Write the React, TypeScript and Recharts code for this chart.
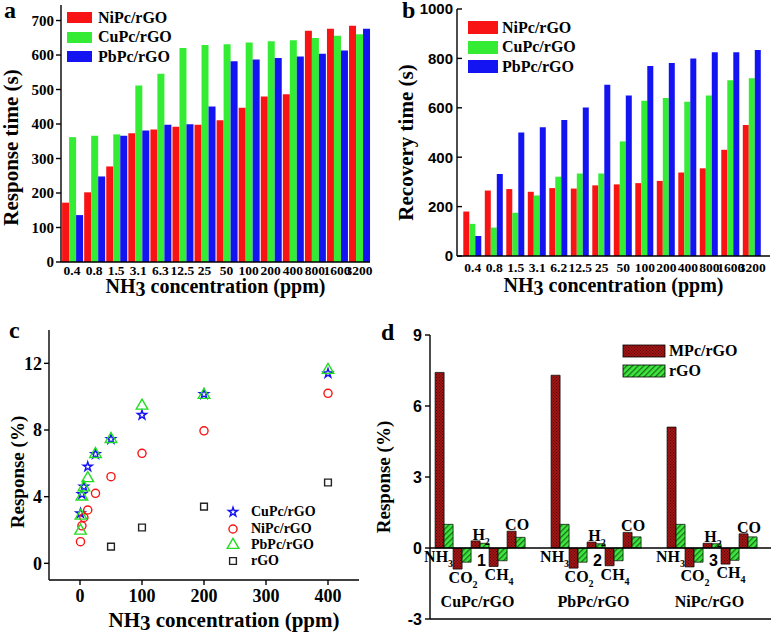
import React from "react";
import {
  BarChart,
  Bar,
  XAxis,
  YAxis,
  ScatterChart,
  Scatter,
  Legend,
  Label,
  LabelList,
  ReferenceLine,
  Symbols,
} from "recharts";

// panel a: response time (s)
const concA = ["0.4", "0.8", "1.5", "3.1", "6.3", "12.5", "25", "50", "100", "200", "400", "800", "1600", "3200"];
const niResponse = [172, 202, 277, 373, 384, 392, 398, 411, 447, 480, 486, 670, 676, 685];
const cuResponse = [362, 366, 370, 512, 546, 620, 629, 631, 636, 640, 643, 649, 656, 660];
const pbResponse = [136, 248, 366, 381, 398, 399, 451, 582, 587, 591, 596, 604, 613, 676];

// panel b: recovery time (s)
const concB = ["0.4", "0.8", "1.5", "3.1", "6.2", "12.5", "25", "50", "100", "200", "400", "800", "1600", "3200"];
const niRecovery = [180, 265, 271, 260, 275, 273, 286, 290, 295, 304, 338, 355, 430, 530];
const cuRecovery = [130, 115, 175, 245, 321, 334, 334, 464, 629, 640, 625, 650, 712, 720];
const pbRecovery = [81, 332, 500, 521, 551, 601, 693, 650, 769, 781, 800, 825, 825, 834];

// panel c: response (%) vs concentration
const cuConc = [0.8, 3.1, 6.3, 12.5, 25, 50, 100, 200, 400];
const cuResp = [3.0, 4.15, 4.6, 5.8, 6.55, 7.45, 8.9, 10.15, 11.4];
const niConc = [0.8, 3.1, 6.3, 12.5, 25, 50, 100, 200, 400];
const niResp = [1.3, 2.25, 2.75, 3.2, 4.2, 5.2, 6.6, 7.95, 10.2];
const pbConc = [0.8, 1.5, 3.1, 6.3, 12.5, 25, 50, 100, 200, 400];
const pbResp = [1.95, 2.85, 4.0, 4.55, 5.1, 6.55, 7.45, 9.45, 10.1, 11.6];
const rgoConc = [50, 100, 200, 400];
const rgoResp = [1.0, 2.15, 3.4, 4.85];

// panel d: selectivity
const groups = ["CuPc/rGO", "PbPc/rGO", "NiPc/rGO"];
const groupNo = ["1", "2", "3"];
const nh3Mpc = [7.42, 7.3, 5.11];
const nh3Rgo = [1.0, 1.0, 1.0];
const co2Mpc = [-0.89, -0.85, -0.8];
const co2Rgo = [-0.6, -0.6, -0.6];
const h2Mpc = [0.3, 0.25, 0.2];
const h2Rgo = [0.2, 0.18, 0.18];
const ch4Mpc = [-0.78, -0.75, -0.68];
const ch4Rgo = [-0.54, -0.54, -0.52];
const coMpc = [0.71, 0.66, 0.6];
const coRgo = [0.45, 0.47, 0.47];

const barOrder = ["NiPc/rGO", "CuPc/rGO", "PbPc/rGO", "MPc/rGO", "rGO"];
const scatterOrder = ["CuPc/rGO", "NiPc/rGO", "PbPc/rGO", "rGO"];

const rowsA = concA.map((c, i) => ({ conc: c, ni: niResponse[i], cu: cuResponse[i], pb: pbResponse[i] }));
const rowsB = concB.map((c, i) => ({ conc: c, ni: niRecovery[i], cu: cuRecovery[i], pb: pbRecovery[i] }));
const pts = (xs: number[], ys: number[]) => xs.map((x, i) => ({ x, y: ys[i] }));
const rowsD = groups.map((g, i) => ({
  pos: i + 1,
  nh3m: nh3Mpc[i], nh3r: nh3Rgo[i],
  co2m: co2Mpc[i], co2r: co2Rgo[i],
  h2m: h2Mpc[i], h2r: h2Rgo[i],
  ch4m: ch4Mpc[i], ch4r: ch4Rgo[i],
  com: coMpc[i], cor: coRgo[i],
}));

const SERIF = "'Liberation Serif', 'Times New Roman', serif";
const SANS = "'Liberation Sans', Arial, sans-serif";
const RED = "#f81414";
const GREEN = "#34ec34";
const BLUE = "#1414f2";
const line = { stroke: "#000", strokeWidth: 1.4 };
const tickFont = (family: string, size: number) => ({ fontFamily: family, fontWeight: 700, fontSize: size, fill: "#000" });
const txt = (family: string, size: number): React.CSSProperties => ({ fontFamily: family, fontWeight: 700, fontSize: size, fill: "#000" });

const sortBy = (payload: any[], order: string[]) =>
  (payload || []).filter((e: any) => e.type !== "none").slice().sort((a: any, b: any) => order.indexOf(a.value) - order.indexOf(b.value));

function YTitle({ viewBox, text, dx, dy, size }: any) {
  if (!viewBox) return null;
  const cx = viewBox.x + dx;
  const cy = viewBox.y + viewBox.height / 2 + dy;
  return (
    <text x={cx} y={cy} transform={`rotate(-90 ${cx} ${cy})`} textAnchor="middle" dominantBaseline="central" style={txt(SERIF, size)}>
      {text}
    </text>
  );
}

function NH3Title({ viewBox, dx, dy, size }: any) {
  if (!viewBox) return null;
  return (
    <text x={viewBox.x + viewBox.width / 2 + dx} y={viewBox.y + dy} textAnchor="middle" style={txt(SERIF, size)}>
      NH<tspan dy={3}>3</tspan>
      <tspan dy={-3}> concentration (ppm)</tspan>
    </text>
  );
}

function RectLegend({ payload, w, h, row, size, gap, border }: any) {
  return (
    <div style={{ textAlign: "left" }}>
      {sortBy(payload, barOrder).map((e: any) => (
        <div key={e.value} style={{ display: "flex", alignItems: "center", height: row }}>
          <svg width={w + 2} height={h + 2} style={{ display: "block" }}>
            <rect x={1} y={1} width={w} height={h} fill={e.color} stroke={border || "none"} strokeWidth={0.8} />
          </svg>
          <span style={{ marginLeft: gap, fontFamily: SERIF, fontWeight: 700, fontSize: size, color: "#000", lineHeight: 1 }}>{e.value}</span>
        </div>
      ))}
    </div>
  );
}

const symbolSize: Record<string, number> = { star: 26, circle: 52, triangle: 58, square: 46 };

function SymbolLegend({ payload }: any) {
  return (
    <div style={{ textAlign: "left" }}>
      {sortBy(payload, scatterOrder).map((e: any) => (
        <div key={e.value} style={{ display: "flex", alignItems: "center", height: 16.4 }}>
          <svg width={16} height={16} style={{ display: "block" }}>
            <Symbols cx={8} cy={8} type={e.type} size={symbolSize[e.type]} fill="none" stroke={e.color} strokeWidth={1.4} />
          </svg>
          <span style={{ marginLeft: 10, fontFamily: SERIF, fontWeight: 700, fontSize: 14, color: "#000", lineHeight: 1 }}>{e.value}</span>
        </div>
      ))}
    </div>
  );
}

const marker = (type: any, color: string) => (p: any) =>
  <Symbols cx={p.cx} cy={p.cy} type={type} size={symbolSize[type]} fill="none" stroke={color} strokeWidth={1.4} />;

// gas name labels of panel d, placed from the bar geometry
const gasLabel = (main: string, sub: string, place: "nh3" | "below" | "above") => (p: any) => {
  const x = Number(p.x), y = Number(p.y), w = Number(p.width), h = Number(p.height);
  if (!isFinite(x) || !isFinite(y)) return null;
  const top = Math.min(y, y + h);
  const bottom = Math.max(y, y + h);
  let cx = x + w + 1;
  let by = place === "below" ? bottom + 14 : top - 1;
  if (place === "nh3") {
    cx = x + w / 2 - 1;
    by = bottom + 14;
  }
  return (
    <text x={cx} y={by} textAnchor="middle" style={txt(SERIF, 16)}>
      {main}
      {sub ? <tspan dy={5} fontSize={10}>{sub}</tspan> : null}
    </text>
  );
};

function GroupTick({ x, y, payload }: any) {
  const i = Number(payload.value) - 1;
  if (i < 0 || i > 2) return null;
  return (
    <g>
      <text x={x} y={y - 53} textAnchor="middle" style={txt(SANS, 16)}>{groupNo[i]}</text>
      <text x={x - 4} y={y - 12} textAnchor="middle" style={txt(SERIF, 16)}>{groups[i]}</text>
    </g>
  );
}

const letter = (left: number, top: number): React.CSSProperties => ({
  position: "absolute", left, top, fontFamily: SERIF, fontWeight: 700, fontSize: 24, lineHeight: 1, color: "#000",
});

export default function App() {
  return (
    <div style={{ position: "absolute", left: 0, top: 0, width: 778, height: 633, background: "#fff", overflow: "hidden" }}>
      {/* a */}
      <div style={{ position: "absolute", left: 0, top: 0 }}>
        <BarChart width={390} height={320} data={rowsA} margin={{ top: 5, right: 20, bottom: 0, left: 0 }} barCategoryGap="5%" barGap={0}>
          <XAxis dataKey="conc" interval={0} height={58} tickLine={false} tickSize={0} tickMargin={3} axisLine={line} tick={tickFont(SERIF, 13.5)}>
            <Label content={(p: any) => <NH3Title {...p} dx={0} dy={31} size={20} />} />
          </XAxis>
          <YAxis domain={[0, 745]} ticks={[0, 100, 200, 300, 400, 500, 600, 700]} width={61} tickSize={5} tickMargin={2} axisLine={line} tickLine={line} tick={tickFont(SERIF, 15)}>
            <Label content={(p: any) => <YTitle {...p} text="Response time (s)" dx={11} dy={14} size={21} />} />
          </YAxis>
          <XAxis xAxisId="top" orientation="top" height={0} tick={false} tickLine={false} axisLine={line} />
          <YAxis yAxisId="right" orientation="right" width={0} tick={false} tickLine={false} axisLine={line} />
          <Legend layout="horizontal" verticalAlign="middle" align="center" width={130} wrapperStyle={{ left: 66, top: 8 }}
            content={(p: any) => <RectLegend payload={p.payload} w={25} h={11} row={19.5} size={16} gap={5} />} />
          <Bar dataKey="ni" name="NiPc/rGO" fill={RED} isAnimationActive={false} />
          <Bar dataKey="cu" name="CuPc/rGO" fill={GREEN} isAnimationActive={false} />
          <Bar dataKey="pb" name="PbPc/rGO" fill={BLUE} isAnimationActive={false} />
        </BarChart>
      </div>

      {/* b */}
      <div style={{ position: "absolute", left: 390, top: 0 }}>
        <BarChart width={388} height={320} data={rowsB} margin={{ top: 9, right: 8, bottom: 0, left: 0 }} barCategoryGap="6%" barGap={0}>
          <XAxis dataKey="conc" interval={0} height={64} padding={{ left: 5, right: 7 }} tickLine={false} tickSize={0} tickMargin={6} axisLine={line} tick={tickFont(SERIF, 13.5)}>
            <Label content={(p: any) => <NH3Title {...p} dx={0} dy={36} size={20} />} />
          </XAxis>
          <YAxis domain={[0, 1000]} ticks={[0, 200, 400, 600, 800, 1000]} width={67} tickSize={-5} tickMargin={9} axisLine={line} tickLine={line} tick={tickFont(SANS, 15)}>
            <Label content={(p: any) => <YTitle {...p} text="Recovery time (s)" dx={15.5} dy={10} size={21} />} />
          </YAxis>
          <XAxis xAxisId="top" orientation="top" height={0} tick={false} tickLine={false} axisLine={line} />
          <YAxis yAxisId="right" orientation="right" width={0} tick={false} tickLine={false} axisLine={line} />
          <Legend layout="horizontal" verticalAlign="middle" align="center" width={130} wrapperStyle={{ left: 77, top: 18 }}
            content={(p: any) => <RectLegend payload={p.payload} w={30} h={13} row={19.5} size={16} gap={3} />} />
          <Bar dataKey="ni" name="NiPc/rGO" fill={RED} isAnimationActive={false} />
          <Bar dataKey="cu" name="CuPc/rGO" fill={GREEN} isAnimationActive={false} />
          <Bar dataKey="pb" name="PbPc/rGO" fill={BLUE} isAnimationActive={false} />
        </BarChart>
      </div>

      {/* c */}
      <div style={{ position: "absolute", left: 0, top: 320 }}>
        <ScatterChart width={390} height={313} margin={{ top: 10, right: 31, bottom: 0, left: 0 }}>
          <XAxis dataKey="x" type="number" domain={[-50, 450]} ticks={[0, 100, 200, 300, 400]} height={53} tickSize={5} tickMargin={4} axisLine={line} tickLine={line} tick={tickFont(SERIF, 18)}>
            <Label content={(p: any) => <NH3Title {...p} dx={20} dy={47} size={21} />} />
          </XAxis>
          <YAxis dataKey="y" type="number" domain={[-1, 14]} ticks={[0, 4, 8, 12]} width={49} tickSize={5} tickMargin={2} axisLine={line} tickLine={line} tick={tickFont(SERIF, 18)}>
            <Label content={(p: any) => <YTitle {...p} text="Response (%)" dx={17} dy={17} size={19} />} />
          </YAxis>
          <XAxis xAxisId="top" orientation="top" type="number" domain={[-50, 450]} height={0} tick={false} tickLine={false} axisLine={line} />
          <YAxis yAxisId="right" orientation="right" type="number" domain={[-1, 14]} width={0} tick={false} tickLine={false} axisLine={line} />
          <Legend layout="horizontal" verticalAlign="middle" align="center" width={120} wrapperStyle={{ left: 225, top: 184 }}
            content={(p: any) => <SymbolLegend payload={p.payload} />} />
          <Scatter name="CuPc/rGO" data={pts(cuConc, cuResp)} fill={BLUE} legendType="star" shape={marker("star", BLUE)} isAnimationActive={false} />
          <Scatter name="NiPc/rGO" data={pts(niConc, niResp)} fill={RED} legendType="circle" shape={marker("circle", RED)} isAnimationActive={false} />
          <Scatter name="PbPc/rGO" data={pts(pbConc, pbResp)} fill="#22dd22" legendType="triangle" shape={marker("triangle", "#22dd22")} isAnimationActive={false} />
          <Scatter name="rGO" data={pts(rgoConc, rgoResp)} fill="#222" legendType="square" shape={marker("square", "#222")} isAnimationActive={false} />
        </ScatterChart>
      </div>

      {/* d */}
      <div style={{ position: "absolute", left: 370, top: 320 }}>
        <BarChart width={408} height={313} data={rowsD} margin={{ top: 15, right: 7, bottom: 0, left: 0 }} barCategoryGap="10%" barGap={0}>
          <defs>
            <pattern id="mpcFill" width="3" height="3" patternUnits="userSpaceOnUse">
              <rect width="3" height="3" fill="#a11616" />
              <rect width="1" height="1" fill="#560000" />
              <rect x="1.5" y="1.5" width="1" height="1" fill="#560000" />
            </pattern>
            <pattern id="rgoFill" width="4" height="4" patternUnits="userSpaceOnUse" patternTransform="rotate(45)">
              <rect width="4" height="4" fill="#3ee83e" />
              <rect width="1.3" height="4" fill="#1b6e1b" />
            </pattern>
          </defs>
          <XAxis dataKey="pos" type="number" domain={[0.556, 3.496]} ticks={[1, 2, 3]} allowDataOverflow height={14} tickLine={false} tickSize={0} tickMargin={0} axisLine={line} tick={<GroupTick />} />
          <YAxis domain={[-3, 9]} ticks={[-3, 0, 3, 6, 9]} width={60} tickSize={5} tickMargin={3} axisLine={line} tickLine={line} tick={tickFont(SANS, 16)}>
            <Label content={(p: any) => <YTitle {...p} text="Response (%)" dx={13} dy={0} size={19} />} />
          </YAxis>
          <XAxis xAxisId="top" orientation="top" type="number" domain={[0.556, 3.496]} height={0} tick={false} tickLine={false} axisLine={line} />
          <YAxis yAxisId="right" orientation="right" domain={[-3, 9]} width={0} tick={false} tickLine={false} axisLine={line} />
          <ReferenceLine y={0} stroke="#000" strokeWidth={1.4} />
          <Legend layout="horizontal" verticalAlign="middle" align="center" width={140} wrapperStyle={{ left: 252, top: 21 }}
            content={(p: any) => <RectLegend payload={p.payload} w={42} h={12} row={20} size={16} gap={3} border="#000" />} />
          <Bar dataKey="nh3m" name="MPc/rGO" fill="url(#mpcFill)" stroke="#000" strokeWidth={0.7} isAnimationActive={false}>
            <LabelList dataKey="nh3m" content={gasLabel("NH", "3", "nh3")} />
          </Bar>
          <Bar dataKey="nh3r" name="rGO" fill="url(#rgoFill)" stroke="#000" strokeWidth={0.7} isAnimationActive={false} />
          <Bar dataKey="co2m" legendType="none" fill="url(#mpcFill)" stroke="#000" strokeWidth={0.7} isAnimationActive={false}>
            <LabelList dataKey="co2m" content={gasLabel("CO", "2", "below")} />
          </Bar>
          <Bar dataKey="co2r" legendType="none" fill="url(#rgoFill)" stroke="#000" strokeWidth={0.7} isAnimationActive={false} />
          <Bar dataKey="h2m" legendType="none" fill="url(#mpcFill)" stroke="#000" strokeWidth={0.7} isAnimationActive={false}>
            <LabelList dataKey="h2m" content={gasLabel("H", "2", "above")} />
          </Bar>
          <Bar dataKey="h2r" legendType="none" fill="url(#rgoFill)" stroke="#000" strokeWidth={0.7} isAnimationActive={false} />
          <Bar dataKey="ch4m" legendType="none" fill="url(#mpcFill)" stroke="#000" strokeWidth={0.7} isAnimationActive={false}>
            <LabelList dataKey="ch4m" content={gasLabel("CH", "4", "below")} />
          </Bar>
          <Bar dataKey="ch4r" legendType="none" fill="url(#rgoFill)" stroke="#000" strokeWidth={0.7} isAnimationActive={false} />
          <Bar dataKey="com" legendType="none" fill="url(#mpcFill)" stroke="#000" strokeWidth={0.7} isAnimationActive={false}>
            <LabelList dataKey="com" content={gasLabel("CO", "", "above")} />
          </Bar>
          <Bar dataKey="cor" legendType="none" fill="url(#rgoFill)" stroke="#000" strokeWidth={0.7} isAnimationActive={false} />
        </BarChart>
      </div>

      <div style={letter(4, -2)}>a</div>
      <div style={letter(402, -2)}>b</div>
      <div style={letter(9, 318)}>c</div>
      <div style={letter(381, 320)}>d</div>
    </div>
  );
}
